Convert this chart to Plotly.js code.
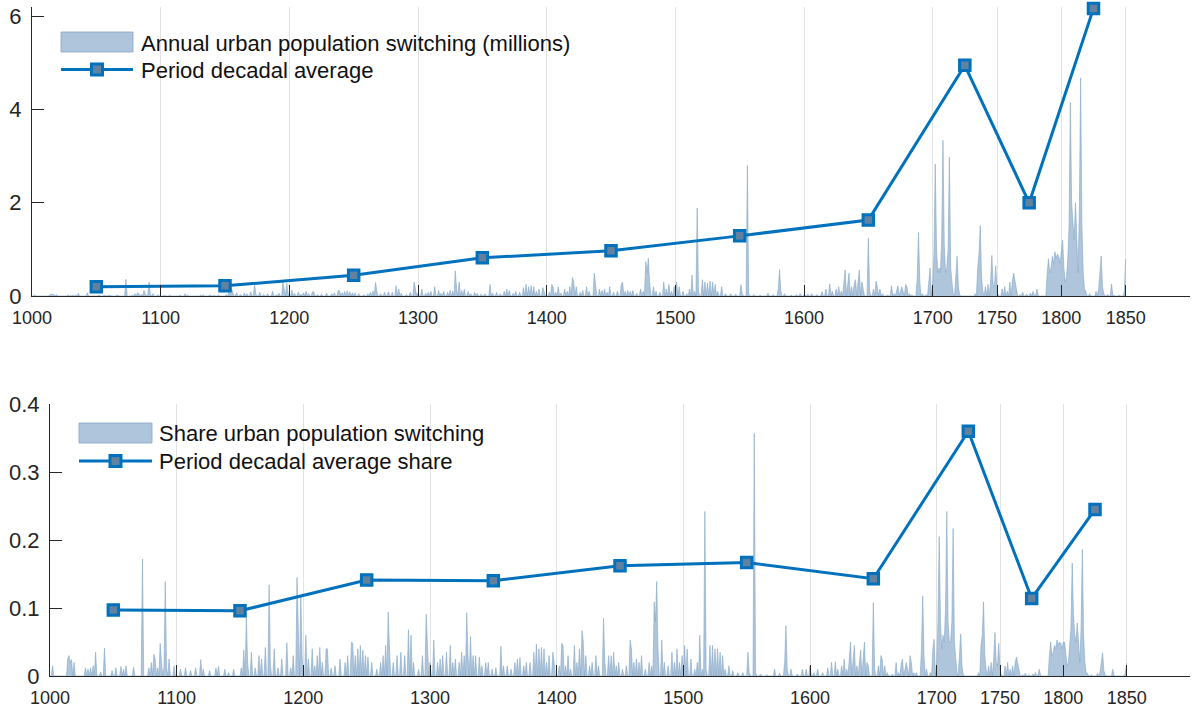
<!DOCTYPE html>
<html>
<head>
<meta charset="utf-8">
<script src="https://cdn.plot.ly/plotly-3.0.1.min.js"></script>
<style>
  html, body { margin: 0; padding: 0; background: #ffffff; }
  #chart { width: 1193px; height: 713px; }
</style>
</head>
<body>
<div id="chart"></div>
<script>
// ---------- Data ----------
// Years with a visible value in the annual series (all other years are zero)
const eventYears = [
  1002,1014,1015,1016,1017,1019,1028,1030,1032,1034,1036,1040,1043,1049,1052,1056,1058,1060,1066,1073,1078,1080,1082,1083,1085,1087,1088,1090,1091,1092,1094,1098,
  1103,1107,1111,1115,1119,1121,1126,1131,1133,1138,1141,1145,1151,1153,1155,1156,1159,1162,1165,1167,1170,1173,1174,1177,1180,1183,1187,1190,1192,1195,1196,1198,1199,
  1202,1204,1207,1209,1211,1213,1215,1218,1219,1222,1225,1229,1233,1235,1238,1239,1241,1243,1245,1247,1249,1251,1254,1258,1261,1263,1265,1267,1268,1271,1274,1277,1280,1283,1285,1287,1291,1294,1297,1298,1300,
  1303,1306,1308,1310,1313,1316,1318,1320,1323,1325,1327,1329,1330,1332,1334,1336,1339,1341,1344,1346,1349,1352,1356,1358,1361,1364,1367,1369,1371,1374,1376,1379,1382,1384,1386,1388,1390,1392,1394,1397,1398,
  1402,1404,1405,1407,1409,1411,1414,1416,1418,1420,1421,1423,1426,1428,1431,1433,1437,1438,1441,1443,1445,1447,1449,1452,1455,1458,1459,1461,1463,1465,1467,1470,1473,1475,1477,1478,1479,1480,1483,1485,1488,1491,1493,1495,1497,1499,
  1501,1503,1506,1509,1511,1513,1515,1517,1518,1521,1523,1525,1527,1529,1531,1533,1536,1539,1543,1547,1551,1552,1556,1557,1561,1566,1572,1576,1580,1581,1582,1585,1590,1594,1597,
  1600,1603,1606,1610,1614,1617,1620,1622,1625,1627,1629,1631,1632,1634,1635,1637,1639,1640,1642,1643,1645,1646,1650,1651,1654,1656,1657,1659,1661,1665,1668,1670,1672,1673,1675,1676,1677,1679,1680,1682,1684,1688,1689,1690,1692,1695,1697,1698,
  1700,1701,1702,1703,1704,1705,1706,1707,1708,1709,1710,1711,1712,1713,1714,1715,1716,1718,1719,1720,1721,1733,1735,1736,1737,1738,1739,1741,1743,1745,1746,1747,1748,1749,1750,
  1751,1754,1756,1758,1760,1762,1763,1764,1765,1768,1770,1773,1776,1778,1779,1781,1782,1786,1789,1790,1791,1792,1793,1794,1795,1796,1797,1798,1799,
  1800,1801,1802,1803,1804,1805,1806,1807,1808,1809,1810,1811,1812,1813,1814,1815,1816,1817,1818,1819,1822,1827,1829,1830,1831,1832,1833,1836,1839,1840,1845,1849,1850
];
// Annual urban population switching (millions)
const switchMillions = [
  0.02,0.03,0.04,0.03,0.035,0.03,0.02,0.015,0.02,0.025,0.06,0.01,0.07,0.01,0.02,0.025,0.015,0.02,0.02,0.36,0.02,0.05,0.07,0.05,0.03,0.12,0.05,0.03,0.3,0.03,0.05,0.03,
  0.02,0.02,0.015,0.02,0.05,0.02,0.015,0.02,0.03,0.02,0.01,0.02,0.03,0.09,0.16,0.05,0.07,0.03,0.06,0.05,0.09,0.24,0.04,0.08,0.03,0.05,0.1,0.03,0.06,0.3,0.1,0.27,0.06,
  0.13,0.06,0.09,0.04,0.07,0.1,0.05,0.09,0.09,0.03,0.04,0.06,0.05,0.07,0.12,0.11,0.07,0.1,0.11,0.09,0.07,0.07,0.05,0.03,0.05,0.08,0.11,0.29,0.1,0.05,0.08,0.09,0.08,0.22,0.15,0.06,0.03,0.08,0.3,0.1,0.06,
  0.15,0.06,0.08,0.1,0.2,0.12,0.06,0.1,0.08,0.12,0.1,0.54,0.15,0.3,0.12,0.15,0.1,0.05,0.08,0.06,0.04,0.05,0.25,0.06,0.08,0.05,0.1,0.15,0.12,0.06,0.1,0.08,0.18,0.25,0.2,0.22,0.2,0.1,0.15,0.18,0.1,
  0.08,0.25,0.2,0.08,0.2,0.06,0.15,0.1,0.2,0.4,0.3,0.2,0.08,0.12,0.2,0.1,0.49,0.15,0.15,0.12,0.15,0.08,0.2,0.08,0.1,0.25,0.3,0.1,0.12,0.1,0.12,0.06,0.15,0.1,0.74,0.5,0.81,0.3,0.2,0.1,0.08,0.3,0.15,0.25,0.1,0.2,
  0.3,0.2,0.1,0.05,0.15,0.45,0.1,1.89,0.1,0.35,0.3,0.28,0.32,0.3,0.25,0.1,0.2,0.05,0.05,0.04,0.24,0.05,2.8,0.05,0.03,0.02,0.06,0.03,0.15,0.57,0.1,0.05,0.02,0.03,0.05,
  0.02,0.04,0.05,0.03,0.09,0.15,0.26,0.1,0.15,0.2,0.1,0.3,0.56,0.3,0.49,0.2,0.25,0.35,0.3,0.56,0.3,0.15,1.24,0.1,0.15,0.32,0.2,0.15,0.05,0.02,0.22,0.05,0.15,0.22,0.12,0.2,0.1,0.25,0.2,0.05,0.02,0.4,1.36,0.3,0.05,0.03,0.4,0.6,
  0.25,0.9,2.83,1.0,0.5,0.6,0.5,1.2,3.34,1.1,0.5,0.6,1.0,2.98,0.6,0.3,0.05,0.4,0.85,0.2,0.02,0.05,0.6,0.9,1.51,0.4,0.1,0.2,0.25,0.3,0.87,0.25,0.2,0.65,0.1,
  0.02,0.15,0.2,0.1,0.3,0.35,0.49,0.3,0.1,0.03,0.08,0.04,0.06,0.1,0.02,0.15,0.02,0.01,0.5,0.8,0.5,0.6,0.85,0.7,0.95,0.8,0.9,0.85,0.7,
  1.0,1.2,0.6,0.3,0.4,0.8,1.5,4.16,2.0,1.5,1.2,2.0,1.0,0.5,1.8,4.68,1.5,0.5,0.15,0.1,0.05,0.1,0.15,0.5,0.86,0.2,0.05,0.03,0.26,0.02,0.02,0.1,0.79
];
// Share of urban population switching
const switchShare = [
  0.015,0.025,0.03,0.02,0.024,0.02,0.012,0.01,0.012,0.015,0.035,0.006,0.041,0.008,0.012,0.014,0.01,0.015,0.013,0.172,0.012,0.02,0.032,0.025,0.012,0.048,0.02,0.012,0.139,0.012,0.025,0.015,
  0.01,0.012,0.008,0.012,0.024,0.01,0.008,0.012,0.014,0.01,0.005,0.01,0.012,0.038,0.086,0.02,0.035,0.012,0.03,0.025,0.042,0.134,0.015,0.04,0.012,0.025,0.049,0.012,0.03,0.145,0.05,0.117,0.03,
  0.06,0.025,0.04,0.015,0.03,0.042,0.02,0.04,0.04,0.012,0.015,0.025,0.02,0.03,0.05,0.048,0.03,0.04,0.045,0.038,0.03,0.028,0.02,0.01,0.02,0.03,0.045,0.094,0.04,0.02,0.03,0.035,0.03,0.068,0.06,0.02,0.01,0.03,0.091,0.04,0.02,
  0.053,0.02,0.025,0.03,0.035,0.045,0.02,0.025,0.02,0.035,0.03,0.093,0.03,0.058,0.03,0.03,0.028,0.015,0.02,0.02,0.01,0.012,0.044,0.015,0.015,0.01,0.02,0.025,0.027,0.015,0.02,0.02,0.035,0.047,0.04,0.042,0.04,0.02,0.03,0.035,0.02,
  0.015,0.048,0.045,0.015,0.03,0.01,0.045,0.02,0.04,0.067,0.05,0.03,0.015,0.02,0.03,0.015,0.085,0.02,0.03,0.03,0.035,0.015,0.02,0.01,0.015,0.053,0.04,0.02,0.025,0.02,0.03,0.01,0.02,0.015,0.109,0.08,0.139,0.04,0.053,0.02,0.015,0.035,0.02,0.04,0.02,0.03,
  0.045,0.04,0.025,0.01,0.02,0.06,0.01,0.242,0.01,0.045,0.045,0.04,0.04,0.035,0.03,0.01,0.015,0.008,0.005,0.005,0.035,0.005,0.357,0.005,0.003,0.002,0.01,0.004,0.02,0.074,0.01,0.01,0.003,0.01,0.01,
  0.015,0.005,0.01,0.005,0.012,0.02,0.021,0.01,0.015,0.025,0.01,0.03,0.05,0.02,0.045,0.015,0.02,0.038,0.025,0.05,0.02,0.015,0.108,0.01,0.015,0.03,0.025,0.015,0.005,0.003,0.02,0.005,0.018,0.025,0.01,0.02,0.01,0.03,0.02,0.005,0.005,0.04,0.118,0.03,0.01,0.005,0.04,0.054,
  0.02,0.08,0.205,0.08,0.04,0.06,0.05,0.1,0.242,0.08,0.05,0.05,0.08,0.217,0.05,0.03,0.005,0.03,0.062,0.015,0.002,0.005,0.045,0.06,0.109,0.03,0.01,0.015,0.02,0.025,0.064,0.02,0.015,0.048,0.01,
  0.002,0.015,0.02,0.01,0.015,0.02,0.028,0.02,0.01,0.002,0.004,0.002,0.003,0.005,0.001,0.01,0.001,0.001,0.03,0.05,0.03,0.035,0.045,0.04,0.053,0.045,0.05,0.048,0.04,
  0.05,0.05,0.03,0.015,0.02,0.04,0.07,0.166,0.09,0.06,0.05,0.078,0.04,0.02,0.07,0.186,0.06,0.02,0.005,0.004,0.002,0.004,0.006,0.02,0.034,0.008,0.002,0.001,0.01,0.001,0.001,0.005,0.019
];
const firstYear = 1000;
const lastYear = 1850;

// Period decadal averages (plotted at period mid-points)
const periodMid = [1050, 1150, 1250, 1350, 1450, 1550, 1650, 1725, 1775, 1825];
const periodAvgMillions = [0.20, 0.22, 0.445, 0.82, 0.97, 1.29, 1.63, 4.95, 2.00, 6.17];
const periodAvgShare = [0.097, 0.096, 0.141, 0.140, 0.162, 0.167, 0.143, 0.360, 0.114, 0.245];

// Axis ticks
const xTickVals = [1000, 1100, 1200, 1300, 1400, 1500, 1600, 1700, 1750, 1800, 1850];
const xTickText = ['1000','1100','1200','1300','1400','1500','1600','1700','1750','1800','1850'];
const y1TickVals = [0, 2, 4, 6];
const y2TickVals = [0, 0.1, 0.2, 0.3, 0.4];
const y2TickText = ['0', '0.1', '0.2', '0.3', '0.4'];

// Legend labels
const labelAnnual = 'Annual urban population switching (millions)';
const labelAvg = 'Period decadal average';
const labelShare = 'Share urban population switching';
const labelAvgShare = 'Period decadal average share';

// ---------- Build the annual table (years without a listed value are zero) ----------
const annualYears = [];
const annualMillions = [];
const annualShare = [];
const lookup = {};
eventYears.forEach((y, i) => { lookup[y] = i; });
for (let y = firstYear; y <= lastYear; y++) {
  annualYears.push(y);
  if (lookup[y] !== undefined) {
    annualMillions.push(switchMillions[lookup[y]]);
    annualShare.push(switchShare[lookup[y]]);
  } else {
    annualMillions.push(0);
    annualShare.push(0);
  }
}

// ---------- Styles ----------
const FONT = '"Liberation Sans", Arial, Helvetica, sans-serif';
const TXT = '#262626';
const AREA_FILL = 'rgba(160,187,214,0.85)';
const AREA_EDGE = '#86a7c6';
const LINE_BLUE = '#0072BD';
const MARKER_FILL = '#62819f';

// page geometry (pixels)
const W = 1193, H = 713;
const M = { l: 32, r: 3, t: 7, b: 37 };
const plotW = W - M.l - M.r, plotH = H - M.t - M.b;
const px = (x) => (x - M.l) / plotW;          // pixel x -> paper x
const py = (y) => (H - M.b - y) / plotH;      // pixel y -> paper y

const avgMarker = { symbol: 'square', size: 10.5, color: MARKER_FILL, line: { color: LINE_BLUE, width: 3 } };

const traces = [
  {
    x: annualYears, y: annualMillions, type: 'scatter', mode: 'lines',
    fill: 'tozeroy', fillcolor: AREA_FILL,
    line: { color: AREA_EDGE, width: 0.6 },
    name: labelAnnual, xaxis: 'x', yaxis: 'y', showlegend: false
  },
  {
    x: periodMid, y: periodAvgMillions, type: 'scatter', mode: 'lines+markers',
    line: { color: LINE_BLUE, width: 3 }, marker: avgMarker,
    name: labelAvg, xaxis: 'x', yaxis: 'y', cliponaxis: false, showlegend: false
  },
  {
    x: annualYears, y: annualShare, type: 'scatter', mode: 'lines',
    fill: 'tozeroy', fillcolor: AREA_FILL,
    line: { color: AREA_EDGE, width: 0.6 },
    name: labelShare, xaxis: 'x2', yaxis: 'y2', showlegend: false
  },
  {
    x: periodMid, y: periodAvgShare, type: 'scatter', mode: 'lines+markers',
    line: { color: LINE_BLUE, width: 3 }, marker: avgMarker,
    name: labelAvgShare, xaxis: 'x2', yaxis: 'y2', cliponaxis: false, showlegend: false
  }
];

const xCommon = {
  range: [1000, 1900], tickmode: 'array', tickvals: xTickVals, ticktext: xTickText,
  showgrid: true, gridcolor: '#e3e3e3', gridwidth: 1,
  ticks: 'inside', ticklen: 11, tickwidth: 1, tickcolor: TXT,
  showline: true, linecolor: TXT, linewidth: 1, zeroline: false,
  tickfont: { family: FONT, size: 18, color: TXT }, ticklabelstandoff: 5, fixedrange: true
};
const yCommon = {
  showgrid: false, ticks: 'inside', ticklen: 12, tickwidth: 1, tickcolor: TXT,
  showline: true, linecolor: TXT, linewidth: 1, zeroline: false,
  tickfont: { family: FONT, size: 22, color: TXT }, ticklabelstandoff: 5, fixedrange: true
};

// ---------- Legend boxes drawn as shapes + real-text annotations ----------
const LEG_FONT = { family: FONT, size: 22, color: '#111111' };
function legendBlock(x0, x1, fillTop, fillBot, lineY, textX, fillLabel, lineLabel) {
  const mx = (x0 + x1) / 2, half = 5.5;
  const shapes = [
    { type: 'rect', xref: 'paper', yref: 'paper', x0: px(x0), x1: px(x1), y0: py(fillBot), y1: py(fillTop),
      fillcolor: AREA_FILL, line: { color: AREA_EDGE, width: 0.8 }, layer: 'above' },
    { type: 'line', xref: 'paper', yref: 'paper', x0: px(x0), x1: px(x1), y0: py(lineY), y1: py(lineY),
      line: { color: LINE_BLUE, width: 3 }, layer: 'above' },
    { type: 'rect', xref: 'paper', yref: 'paper', x0: px(mx - half), x1: px(mx + half), y0: py(lineY + half), y1: py(lineY - half),
      fillcolor: MARKER_FILL, line: { color: LINE_BLUE, width: 3 }, layer: 'above' }
  ];
  const annotations = [
    { xref: 'paper', yref: 'paper', x: px(textX), y: py((fillTop + fillBot) / 2 + 1), xanchor: 'left', yanchor: 'middle',
      text: fillLabel, showarrow: false, font: LEG_FONT, borderpad: 0 },
    { xref: 'paper', yref: 'paper', x: px(textX), y: py(lineY + 0.5), xanchor: 'left', yanchor: 'middle',
      text: lineLabel, showarrow: false, font: LEG_FONT, borderpad: 0 }
  ];
  return { shapes, annotations };
}
const legTop = legendBlock(61, 133, 32, 52, 69.5, 140, labelAnnual, labelAvg);
const legBot = legendBlock(79, 152, 423, 443, 461, 158, labelShare, labelAvgShare);

const layout = {
  width: W, height: H,
  margin: M,
  paper_bgcolor: '#ffffff', plot_bgcolor: '#ffffff',
  font: { family: FONT, color: TXT },
  showlegend: false,
  xaxis: Object.assign({}, xCommon, { domain: [0, 1], anchor: 'y' }),
  yaxis: Object.assign({}, yCommon, { domain: [py(296), 1], range: [0, 6.2], tickmode: 'array', tickvals: y1TickVals, anchor: 'x' }),
  xaxis2: Object.assign({}, xCommon, { domain: [px(50), 1], anchor: 'y2' }),
  yaxis2: Object.assign({}, yCommon, { domain: [0, py(404)], range: [0, 0.4], tickmode: 'array', tickvals: y2TickVals, ticktext: y2TickText, anchor: 'x2' }),
  shapes: legTop.shapes.concat(legBot.shapes),
  annotations: legTop.annotations.concat(legBot.annotations)
};

Plotly.newPlot('chart', traces, layout, { displayModeBar: false, staticPlot: true });
</script>
</body>
</html>
